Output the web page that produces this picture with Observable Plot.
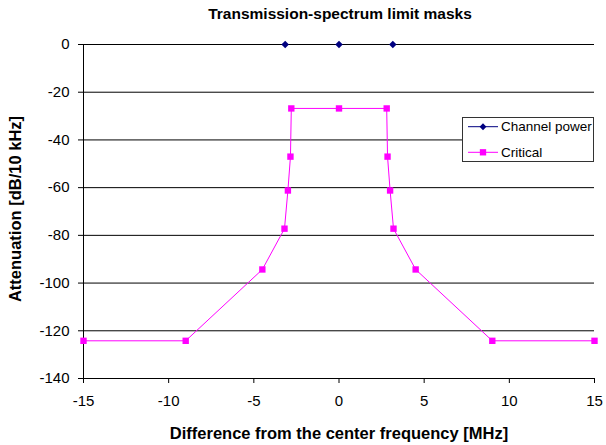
<!DOCTYPE html>
<html><head><meta charset="utf-8">
<script src="https://cdn.jsdelivr.net/npm/d3@7"></script>
<script src="https://cdn.jsdelivr.net/npm/@observablehq/plot@0.6"></script>
<style>
body{margin:0;background:#fff;}
#chart{position:relative;width:606px;height:445px;font-family:"Liberation Sans",Arial,sans-serif;}
</style>
</head><body><div id="chart"></div>
<script>
const title = "Transmission-spectrum limit masks";
const xLabel = "Difference from the center frequency [MHz]";
const yLabel = "Attenuation [dB/10 kHz]";
const xTicks = [-15, -10, -5, 0, 5, 10, 15];
const yTicks = [0, -20, -40, -60, -80, -100, -120, -140];
const criticalX = [-15, -9, -4.5, -3.2, -3.0, -2.85, -2.8, 0, 2.8, 2.85, 3.0, 3.2, 4.5, 9, 15];
const criticalY = [-124.2, -124.2, -94.3, -77.2, -61.2, -47, -26.8, -26.8, -26.8, -47, -61.2, -77.2, -94.3, -124.2, -124.2];
const channelX = [-3.16, 0, 3.16];
const channelY = [0, 0, 0];
const seriesNames = ["Channel power", "Critical"];
const seriesColors = ["#000080", "#FF00FF"];

const critical = criticalX.map((x, i) => ({x, y: criticalY[i]}));
const channel = channelX.map((x, i) => ({x, y: channelY[i]}));
const fmt = d => String(d);

const plot = Plot.plot({
  width: 606, height: 445,
  marginLeft: 83, marginRight: 12, marginTop: 44, marginBottom: 67,
  style: {fontFamily: "'Liberation Sans', Arial, sans-serif", background: "white", color: "black"},
  x: {domain: [-15, 15]},
  y: {domain: [-140, 0]},
  marks: [
    Plot.ruleY(yTicks, {stroke: "black", strokeWidth: 1}),
    Plot.ruleX([-15], {stroke: "black", strokeWidth: 1}),
    Plot.axisX({ticks: xTicks, tickSize: 5, tickPadding: 12, fontSize: 15, label: null, tickFormat: fmt}),
    Plot.axisY({ticks: yTicks, tickSize: 5, tickPadding: 9, fontSize: 15, label: null, tickFormat: fmt}),
    Plot.line(critical, {x: "x", y: "y", stroke: seriesColors[1], strokeWidth: 1}),
    Plot.dot(critical, {x: "x", y: "y", symbol: "square", r: 3.6, fill: seriesColors[1], stroke: "none"}),
    Plot.dot(channel, {x: "x", y: "y", symbol: "diamond2", r: 3.4, fill: seriesColors[0], stroke: "none"})
  ]
});
document.getElementById("chart").appendChild(plot);

const svg = d3.select(plot);
const ff = "'Liberation Sans', Arial, sans-serif";
svg.append("text").attr("x", 340).attr("y", 19).attr("text-anchor", "middle")
  .attr("font-family", ff).attr("font-size", 15.5).attr("font-weight", "bold").attr("fill", "black").text(title);
svg.append("text").attr("x", 339).attr("y", 439).attr("text-anchor", "middle")
  .attr("font-family", ff).attr("font-size", 16.5).attr("font-weight", "bold").attr("fill", "black").text(xLabel);
svg.append("text").attr("transform", "translate(21,209) rotate(-90)").attr("text-anchor", "middle")
  .attr("font-family", ff).attr("font-size", 16.5).attr("font-weight", "bold").attr("fill", "black").text(yLabel);

// legend
const lg = svg.append("g");
lg.append("rect").attr("x", 462.5).attr("y", 117.5).attr("width", 131).attr("height", 44)
  .attr("fill", "white").attr("stroke", "#333").attr("stroke-width", 1);
const rows = [126.7, 152.3];
const syms = [d3.symbol(d3.symbolDiamond2, 30), d3.symbol(d3.symbolSquare, 40)];
seriesNames.forEach((name, i) => {
  const y = rows[i];
  lg.append("line").attr("x1", 468).attr("x2", 498).attr("y1", y).attr("y2", y)
    .attr("stroke", seriesColors[i]).attr("stroke-width", 1);
  lg.append("path").attr("d", syms[i]()).attr("transform", `translate(483,${y})`).attr("fill", seriesColors[i]);
  lg.append("text").attr("x", 501).attr("y", y).attr("dy", "0.35em").attr("text-anchor", "start")
    .attr("font-family", ff).attr("font-size", 13.5).attr("fill", "black").text(name);
});
</script>
</body></html>
